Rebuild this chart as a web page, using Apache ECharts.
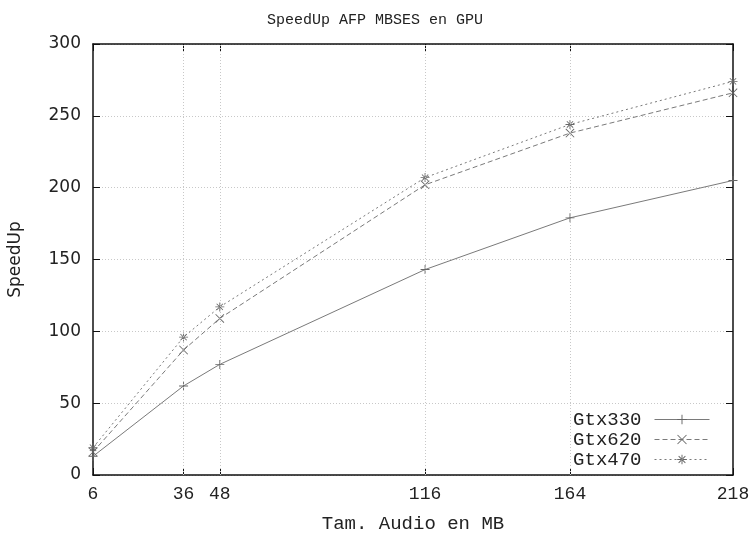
<!DOCTYPE html>
<html>
<head>
<meta charset="utf-8">
<script src="https://cdn.jsdelivr.net/npm/echarts@6/dist/echarts.min.js"></script>
<style>html,body{margin:0;padding:0;background:#fff}#c{width:750px;height:534px}</style>
</head>
<body>
<div id="c"></div>
<script>
var sizes = [6, 36, 48, 116, 164, 218];
var gtx330 = [13, 62, 77, 143, 179, 205];
var gtx620 = [16, 87, 109, 202, 238, 266];
var gtx470 = [19, 96, 117, 207, 244, 274];
var seriesNames = ['Gtx330', 'Gtx620', 'Gtx470'];
var xTicks = [6, 36, 48, 116, 164, 218];

var plusPath = 'path://M-0.6,-6L0.6,-6L0.6,-0.6L6,-0.6L6,0.6L0.6,0.6L0.6,6L-0.6,6L-0.6,0.6L-6,0.6L-6,-0.6L-0.6,-0.6Z';
var xPath = 'path://M-6,-5.2L-5.2,-6L6,5.2L5.2,6ZM-6,5.2L-5.2,6L6,-5.2L5.2,-6Z';
var starPath = 'path://M-0.6,-6L0.6,-6L0.6,-0.6L6,-0.6L6,0.6L0.6,0.6L0.6,6L-0.6,6L-0.6,0.6L-6,0.6L-6,-0.6L-0.6,-0.6ZM-4.6,-3.8L-3.8,-4.6L4.6,3.8L3.8,4.6ZM-4.6,3.8L-3.8,4.6L4.6,-3.8L3.8,-4.6Z';

function pairs(vals) { return sizes.map(function (s, i) { return [s, vals[i]]; }); }

var mono = 'Liberation Mono';
var lineColor = '#7a7a7a';

var option = {
  animation: false,
  backgroundColor: '#fff',
  title: {
    text: 'SpeedUp AFP MBSES en GPU',
    left: 'center', top: 8,
    textStyle: { fontFamily: mono, fontSize: 15, fontWeight: 'normal', color: '#222' }
  },
  grid: { left: 93, right: 17, top: 44, bottom: 59, containLabel: false, outerBoundsMode: 'none' },
  legend: {
    orient: 'vertical',
    right: 40, top: 410,
    padding: 0,
    itemGap: 1,
    itemWidth: 55, itemHeight: 12,
    align: 'right',
    data: seriesNames,
    lineStyle: { width: 1 },
    textStyle: { fontFamily: mono, fontSize: 19, color: '#222', lineHeight: 19, padding: [0, 8, 0, 0] }
  },
  xAxis: [{
    type: 'value', min: 6, max: 218, position: 'bottom',
    name: 'Tam. Audio en MB', nameLocation: 'middle', nameGap: 39,
    nameTextStyle: { fontFamily: mono, fontSize: 19, color: '#222' },
    axisLine: { show: true, onZero: false, lineStyle: { color: '#111', width: 1.5 } },
    axisTick: { show: true, inside: true, length: 7, customValues: xTicks, lineStyle: { color: '#111' } },
    axisLabel: { customValues: xTicks, fontFamily: mono, fontSize: 18, color: '#222', margin: 10 },
    splitLine: { show: false }
  }, {
    type: 'value', min: 6, max: 218, position: 'top',
    axisLine: { show: true, onZero: false, lineStyle: { color: '#111', width: 1.5 } },
    axisTick: { show: true, inside: true, length: 7, customValues: xTicks, lineStyle: { color: '#111' } },
    axisLabel: { show: false },
    splitLine: { show: false }
  }],
  yAxis: [{
    type: 'value', min: 0, max: 300, interval: 50, position: 'left',
    name: 'SpeedUp', nameLocation: 'middle', nameGap: 69, nameRotate: 90,
    nameTextStyle: { fontFamily: 'DejaVu Sans', fontSize: 17, color: '#222' },
    axisLine: { show: true, onZero: false, lineStyle: { color: '#111', width: 1.5 } },
    axisTick: { show: true, inside: true, length: 7, lineStyle: { color: '#111' } },
    axisLabel: { fontFamily: 'DejaVu Sans', fontSize: 17, color: '#222', margin: 12 },
    splitLine: { show: true, lineStyle: { color: '#c8c8c8', type: [1, 2], width: 1 } }
  }, {
    type: 'value', min: 0, max: 300, interval: 50, position: 'right',
    axisLine: { show: true, onZero: false, lineStyle: { color: '#111', width: 1.5 } },
    axisTick: { show: true, inside: true, length: 7, lineStyle: { color: '#111' } },
    axisLabel: { show: false },
    splitLine: { show: false }
  }],
  series: [{
    name: 'Gtx330', type: 'line', data: pairs(gtx330),
    symbol: plusPath, symbolSize: 9,
    itemStyle: { color: '#666' },
    lineStyle: { color: lineColor, width: 1, type: 'solid' },
    markLine: {
      silent: true, symbol: 'none', label: { show: false },
      lineStyle: { color: '#c8c8c8', type: [1, 2], width: 1 },
      data: xTicks.slice(1, -1).map(function (v) { return { xAxis: v }; })
    },
    z: 3
  }, {
    name: 'Gtx620', type: 'line', data: pairs(gtx620),
    symbol: xPath, symbolSize: 9,
    itemStyle: { color: '#666' },
    lineStyle: { color: lineColor, width: 1, type: [5, 3] },
    z: 3
  }, {
    name: 'Gtx470', type: 'line', data: pairs(gtx470),
    symbol: starPath, symbolSize: 9,
    itemStyle: { color: '#666' },
    lineStyle: { color: lineColor, width: 1, type: [2, 3] },
    z: 3
  }]
};

var chart = echarts.init(document.getElementById('c'), null, { renderer: 'canvas' });
chart.setOption(option);
</script>
</body>
</html>
